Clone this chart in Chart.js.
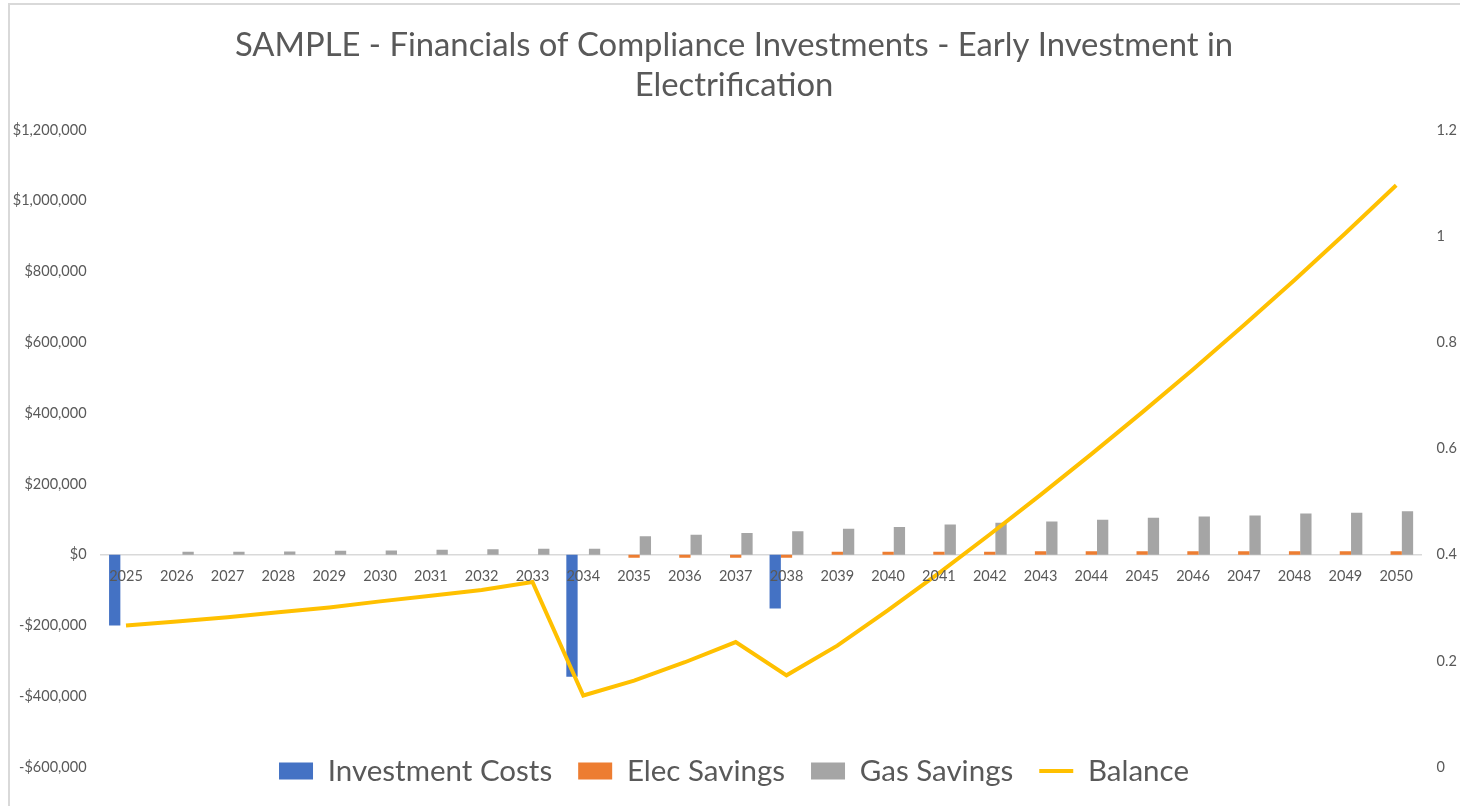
<!DOCTYPE html>
<html>
<head>
<meta charset="utf-8">
<script src="https://cdn.jsdelivr.net/npm/chart.js@4.4.1/dist/chart.umd.min.js"></script>
<style>
  body { margin: 0; background: #fff; overflow: hidden; }
  .chart-wrap { position: relative; width: 1460px; height: 806px; }
  .chart-frame { position: absolute; left: 8px; top: 3px; right: 0; bottom: 0; border-left: 2px solid #d9d9d9; border-top: 2px solid #d9d9d9; }
  canvas { position: absolute; left: 0; top: 0; }
</style>
</head>
<body>
<div class="chart-wrap">
  <div class="chart-frame"></div>
  <canvas id="myChart"></canvas>
</div>
<script>
// data
const years = ['2025', '2026', '2027', '2028', '2029', '2030', '2031', '2032', '2033', '2034', '2035', '2036', '2037',
  '2038', '2039', '2040', '2041', '2042', '2043', '2044', '2045', '2046', '2047', '2048', '2049', '2050'];
const investmentCosts = [-200000, 0, 0, 0, 0, 0, 0, 0, 0, -345000, 0, 0, 0,
  -152000, 0, 0, 0, 0, 0, 0, 0, 0, 0, 0, 0, 0];
const elecSavings = [0, 0, 0, 0, 0, 0, 0, 0, 0, 0, -9000, -9000, -9000,
  -9000, 8500, 8500, 8500, 8500, 9500, 9500, 9500, 9500, 9500, 9500, 9500, 9500];
const gasSavings = [0, 8000, 8500, 9000, 11000, 12000, 14000, 15000, 16500, 17000, 52000, 56000, 61000,
  66000, 73000, 78000, 85000, 90000, 94000, 99000, 104000, 108000, 111000, 116000, 118500, 123000];
const balance = [-200000, -189000, -177000, -163000, -149000, -132000, -116000, -100000, -77000, -398000, -356000, -304000, -247000,
  -341000, -257000, -157000, -52000, 57000, 169000, 284000, 402000, 523000, 648000, 776000, 908000, 1044000];
const titleLines = ['SAMPLE - Financials of Compliance Investments - Early Investment in', 'Electrification'];

const gray = '#595959';
const tickFont = 14.5;
const legendFont = 29.5;
const legendGap = 26;

// legend sits on top of the bottom of the plot area, like in excel
const legendOverlap = {
  id: 'legendOverlap',
  afterLayout(chart) {
    let lg = chart.legend;
    let h = lg.height;
    lg.top = chart.chartArea.bottom + 4 - legendGap - legendFont / 2;
    lg.bottom = lg.top + h;
  }
};

const ctx = document.getElementById('myChart');
new Chart(ctx, {
  type: 'bar',
  data: {
    labels: years,
    datasets: [{
      label: 'Investment Costs',
      data: investmentCosts,
      backgroundColor: '#4472C4',
      pointStyle: 'rect',
      order: 1,
    },
    {
      label: 'Elec Savings',
      data: elecSavings,
      backgroundColor: '#ED7D31',
      pointStyle: 'rect',
      order: 1,
    },
    {
      label: 'Gas Savings',
      data: gasSavings,
      backgroundColor: '#A5A5A5',
      pointStyle: 'rect',
      order: 1,
    },
    {
      type: 'line',
      label: 'Balance',
      data: balance,
      borderColor: '#FFC000',
      backgroundColor: '#FFC000',
      borderWidth: 4,
      pointRadius: 0,
      pointStyle: 'line',
      tension: 0,
      order: 0,
    }]
  },
  options: {
    responsive: true,
    maintainAspectRatio: false,
    animation: false,
    categoryPercentage: 0.667,
    barPercentage: 1,
    layout: {
      padding: { left: 8, right: 0, top: 0, bottom: 806 - 767 - (legendFont + legendGap + 10) }
    },
    scales: {
      x: {
        position: { y: 0 },
        grid: { display: false, drawTicks: false },
        border: { display: true, color: '#d9d9d9', width: 1.5 },
        ticks: {
          z: 1,
          color: gray,
          padding: 13,
          autoSkip: false,
          maxRotation: 0,
          font: { family: 'Lato', size: tickFont }
        }
      },
      y: {
        position: 'left',
        min: -600000,
        max: 1200000,
        grid: { display: false, drawTicks: false },
        border: { display: false },
        afterFit: s => { s.width = 92.6; },
        ticks: {
          stepSize: 200000,
          color: gray,
          padding: 14,
          font: { family: 'Lato', size: tickFont },
          callback: v => (v < 0 ? '-$' : '$') + Math.abs(v).toLocaleString('en-US')
        }
      },
      y1: {
        position: 'right',
        min: 0,
        max: 1.2,
        grid: { display: false, drawTicks: false },
        border: { display: false },
        afterFit: s => { s.width = 38.4; },
        ticks: {
          stepSize: 0.2,
          color: gray,
          padding: 15,
          font: { family: 'Lato', size: tickFont },
          callback: v => String(+v.toFixed(1))
        }
      }
    },
    plugins: {
      title: {
        display: true,
        text: titleLines,
        color: gray,
        font: { family: 'Lato', size: 32.8, weight: 'normal', lineHeight: 40 / 32.8 },
        padding: { top: 25, bottom: 25 }
      },
      legend: {
        position: 'bottom',
        labels: {
          color: gray,
          usePointStyle: true,
          pointStyleWidth: 34,
          boxHeight: 17,
          padding: legendGap,
          font: { family: 'Lato', size: legendFont },
          sort: (a, b) => a.datasetIndex - b.datasetIndex
        }
      },
      tooltip: { enabled: false }
    }
  },
  plugins: [legendOverlap]
});
</script>
</body>
</html>
